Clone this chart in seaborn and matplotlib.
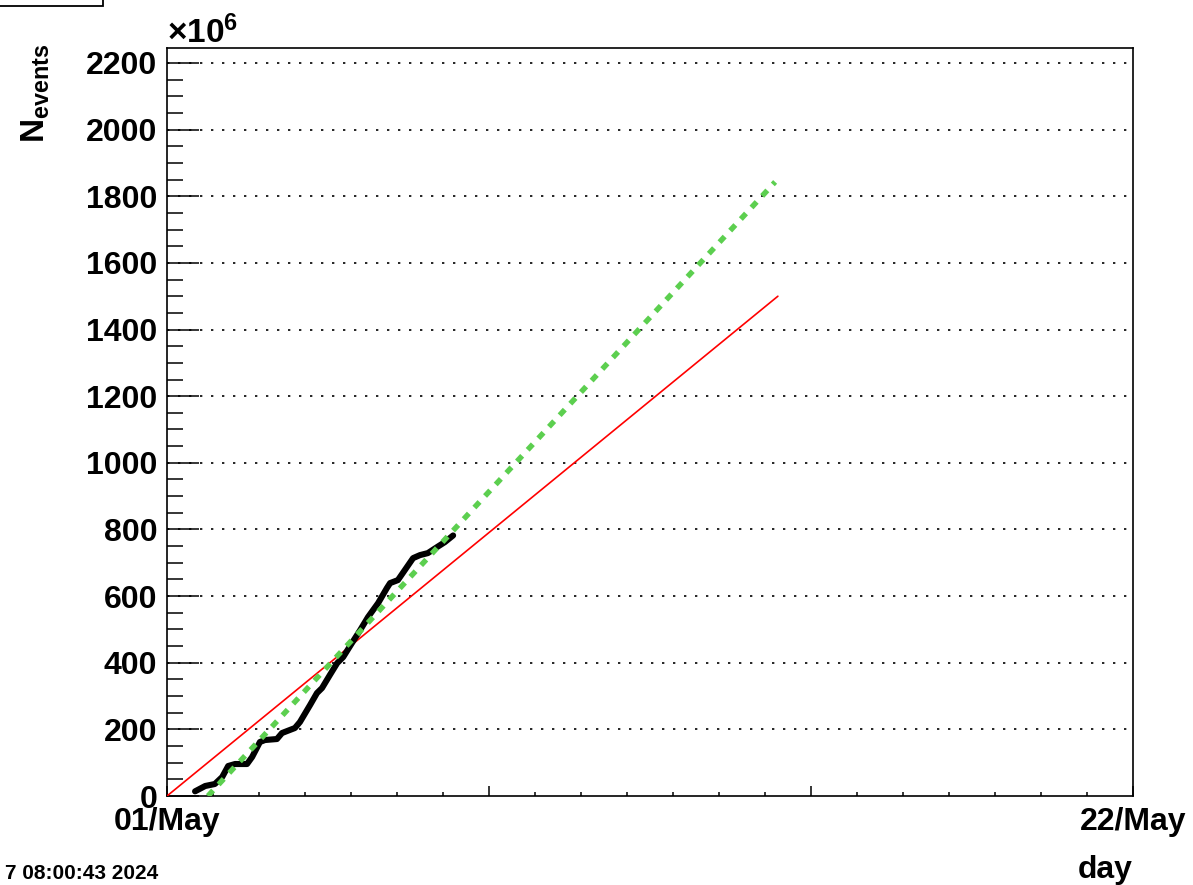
import matplotlib
matplotlib.use("Agg")
import matplotlib.pyplot as plt
import seaborn as sns
import pandas as pd
from matplotlib.patches import Rectangle

# ---- data (days since 01/May, N_events in units of 1e6) ----
black_day = [0.61, 0.83, 1.04, 1.20, 1.33, 1.48, 1.74, 1.85, 2.02, 2.13, 2.39, 2.50,
             2.78, 2.89, 3.11, 3.26, 3.37, 3.54, 3.70, 3.83, 4.02, 4.20, 4.37, 4.59,
             4.78, 4.85, 5.02, 5.17, 5.35, 5.50, 5.67, 5.87, 6.04, 6.22]
black_n = [14, 30, 36, 57, 90, 96, 96, 117, 162, 168, 171, 189,
           204, 222, 273, 309, 324, 363, 399, 417, 459, 498, 537, 579,
           624, 639, 648, 678, 714, 723, 729, 747, 762, 782]
red_day = [0.0, 13.28]
red_n = [0, 1500]
green_day = [0.89, 13.22]
green_n = [0, 1843]

x_tick_labels = ["01/May", "", "", "22/May"]
x_major = [0, 7, 14, 21]
y_major = list(range(0, 2201, 200))

sns.set_theme(style="ticks")
plt.rcParams["font.family"] = ["Liberation Sans", "DejaVu Sans"]
plt.rcParams["mathtext.fontset"] = "custom"
plt.rcParams["mathtext.rm"] = "Liberation Sans:bold"
plt.rcParams["mathtext.bf"] = "Liberation Sans:bold"
plt.rcParams["mathtext.it"] = "Liberation Sans:bold"
for k in ["text.color", "axes.labelcolor", "xtick.color", "ytick.color", "axes.edgecolor"]:
    plt.rcParams[k] = "black"

fig = plt.figure(figsize=(11.93, 8.85), dpi=100)
W, H = 1193, 885
ax = fig.add_axes([167 / W, 1 - 796 / H, (1133 - 167) / W, (796 - 48) / H])

df_black = pd.DataFrame({"day": black_day, "n": black_n})
df_red = pd.DataFrame({"day": red_day, "n": red_n})
df_green = pd.DataFrame({"day": green_day, "n": green_n})

# grid lines
for yv in y_major[1:]:
    ax.axhline(yv, color="black", lw=1.2, linestyle=(0, (1.4, 5.2)), zorder=1)

sns.lineplot(data=df_red, x="day", y="n", ax=ax, color="#ff0000", lw=1.2,
             sort=False, estimator=None, zorder=3)
sns.lineplot(data=df_black, x="day", y="n", ax=ax, color="black", lw=4.4,
             sort=False, estimator=None, zorder=4)
sns.lineplot(data=df_green, x="day", y="n", ax=ax, color="#5ccf4f", lw=3.9,
             sort=False, estimator=None, zorder=5)
ax.lines[-1].set_linestyle((0, (1.4, 1.5)))
ax.lines[-1].set_dash_capstyle("butt")

ax.set_xlim(0, 21)
ax.set_ylim(0, 2245)

ax.set_xticks(x_major)
ax.set_xticks(range(0, 22), minor=True)
ax.set_xticklabels(x_tick_labels)
ax.set_yticks(y_major)
ax.set_yticks(range(0, 2246, 50), minor=True)

ax.tick_params(axis="x", which="major", direction="in", length=7, width=1.1,
               labelsize=23, pad=8, top=False, colors="black")
ax.tick_params(axis="x", which="minor", direction="in", length=3, width=1.1, top=False,
               colors="black")
ax.tick_params(axis="y", which="major", direction="in", length=23, width=1.1,
               labelsize=23, pad=7, right=False, colors="black")
ax.tick_params(axis="y", which="minor", direction="in", length=11.5, width=1.1,
               right=False, colors="black")
for lab in ax.get_xticklabels() + ax.get_yticklabels():
    lab.set_fontweight("bold")

for s in ax.spines.values():
    s.set_visible(True)
    s.set_linewidth(1.2)
    s.set_color("black")

ax.set_xlabel("")
ax.set_ylabel("")
ax.grid(False)

# texts
fig.text(167 / W, 1 - 43 / H, r"$\times10^{6}$", fontsize=24, ha="left", va="baseline",
         color="black")
fig.text(36 / W, 1 - 44 / H, r"$\mathbf{N}_{\mathbf{events}}$", fontsize=24,
         rotation=90, ha="center", va="top", color="black")
fig.text(1133 / W, 1 - 878 / H, "day", fontsize=23, fontweight="bold",
         ha="right", va="baseline", color="black")
fig.text(5 / W, 1 - 879 / H, "7 08:00:43 2024", fontsize=15, fontweight="bold",
         ha="left", va="baseline", color="black")

fig.patches.append(Rectangle((-10 / W, 1 - 6 / H), 113 / W, 20 / H,
                             transform=fig.transFigure, fill=False,
                             edgecolor="black", lw=1.3))

fig.savefig("out.png", dpi=100, facecolor="white")
